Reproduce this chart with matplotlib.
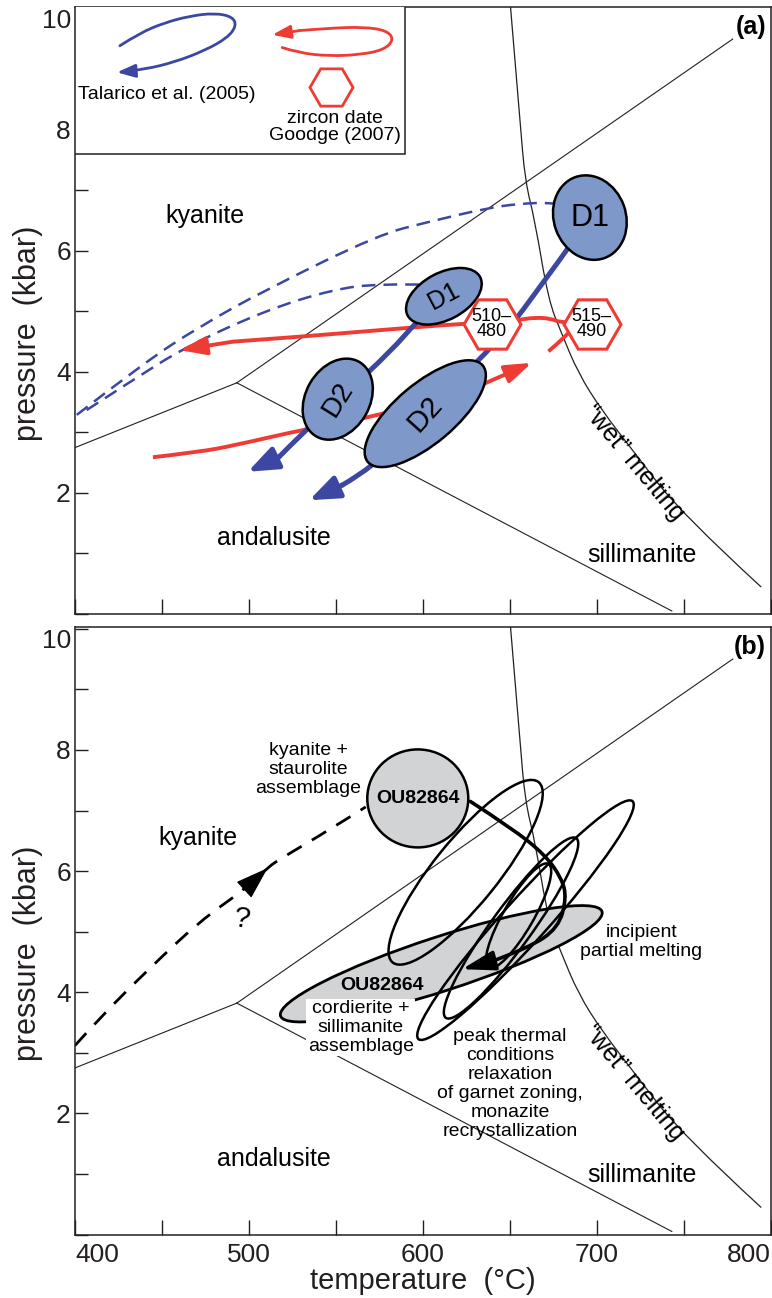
import numpy as np
import matplotlib
matplotlib.use("Agg")
import matplotlib.pyplot as plt
from matplotlib.patches import Ellipse, Rectangle, PathPatch
from matplotlib.path import Path
from matplotlib.transforms import ScaledTranslation

plt.rcParams['font.family'] = ['Liberation Sans', 'DejaVu Sans']

# ---------------- data (temperature °C, pressure kbar) ----------------
# Al2SiO5 phase boundaries
ky_and_T = [400, 493]
ky_and_P = [2.75, 3.82]
ky_sil_T = [493, 778]
ky_sil_P = [3.82, 9.5]
and_sil_T = [493, 743]
and_sil_P = [3.82, 0.05]
wet_T = [650.3, 655.8, 658.7, 664.4, 672.0, 679.6, 689.2, 702.6, 721.7, 748.4, 794.2]
wet_P = [10.03, 8.13, 7.15, 6.49, 5.19, 4.64, 3.98, 3.37, 2.66, 1.66, 0.45]

# panel (a): Talarico et al. (2005) paths
blueA_T = [695.9, 654.9, 637.7, 601.3, 571.8, 553.6, 534.6]
blueA_P = [6.55, 4.89, 4.36, 3.31, 2.43, 2.13, 1.88]
blueB_T = [611.3, 595.7, 582.1, 553.5, 530.8, 517.4, 499.3]
blueB_P = [5.26, 4.81, 4.36, 3.59, 2.99, 2.60, 2.35]
dashU_T = [401, 439.1, 471.6, 509.8, 574.7, 603.3, 635.8, 654.9, 674.0, 690.0]
dashU_P = [3.29, 4.14, 4.75, 5.36, 6.27, 6.48, 6.70, 6.78, 6.80, 6.75]
dashL_T = [406.7, 433.4, 464.0, 509.8, 547.9, 574.7, 605.0]
dashL_P = [3.37, 3.87, 4.42, 5.02, 5.36, 5.46, 5.44]
# panel (a): Goodge (2007) paths
redU_T = [696.7, 679.5, 673.8, 664.2, 655.6, 639.4, 623.4, 574.7, 528.9, 490.7, 460.1]
redU_P = [4.81, 4.81, 4.88, 4.90, 4.86, 4.81, 4.80, 4.69, 4.58, 4.50, 4.36]
redL_T = [444.8, 471.6, 490.7, 534.6, 578.5, 633.9, 662.5]
redL_P = [2.59, 2.68, 2.78, 3.07, 3.29, 3.79, 4.15]
redS_T = [672.1, 677.8, 681.6, 686.5]
redS_P = [4.34, 4.48, 4.59, 4.72]
# deformation ellipses (centre T, P), labels
d_T = [695.9, 612.0, 551.0, 601.3]
d_P = [6.55, 5.25, 3.55, 3.31]
d_lab = ['D1', 'D1', 'D2', 'D2']
# zircon dates
hex_T = [639.6, 696.9]
hex_P = [4.79, 4.79]
hex_lab = ['510–\n480', '515–\n490']
# legend glyphs
legB_T = [425.8, 437.2, 451.5, 465.9, 480.2, 490.5, 492.8, 487.6, 474.5, 457.3, 440.1, 428.6, 424.1]
legB_P = [9.39, 9.60, 9.77, 9.88, 9.93, 9.87, 9.72, 9.52, 9.31, 9.12, 9.00, 8.96, 8.95]
legR_T = [519.1, 528.9, 546.0, 563.2, 577.5, 583.3, 579.3, 566.1, 546.0, 528.9, 513.4]
legR_P = [9.36, 9.27, 9.22, 9.24, 9.32, 9.49, 9.64, 9.70, 9.68, 9.64, 9.57]

# panel (b): sample OU82864
circ_T, circ_P = 597.0, 7.20
gray_T, gray_P = 610.5, 4.47
path_T = [627.2, 651.0, 670.1, 679.7, 682.5, 677.8, 660.6, 639.6, 622.4]
path_P = [7.15, 6.71, 6.27, 5.88, 5.56, 5.06, 4.73, 4.51, 4.38]
prog_T = [400.0, 414.3, 443.0, 471.6, 497.1, 510.7, 515.5, 547.9, 567.1]
prog_P = [3.12, 3.58, 4.40, 5.17, 5.69, 6.05, 6.16, 6.71, 7.06]
ell_T = [624.5, 658.9, 650.6, 654.9]
ell_P = [5.98, 5.19, 5.06, 5.26]

# ---------------- style ----------------
DPI = 100
BLUE = '#3B47A1'
BLUEF = '#7D98C9'
RED = '#EE3B33'
GRAY = '#D1D3D4'
INK = '#231F20'

fig = plt.figure(figsize=(7.72, 12.98), dpi=DPI)
axa = fig.add_axes([75/772, 1-614/1298, 696/772, 607/1298])
axb = fig.add_axes([75/772, 1-1234.5/1298, 696/772, 607.5/1298])


def ell(ax, T, P, w, h, ang, **kw):
    e = Ellipse((0, 0), w/DPI, h/DPI, angle=ang,
                transform=fig.dpi_scale_trans + ScaledTranslation(T, P, ax.transData), **kw)
    ax.add_patch(e)
    return e


def smooth(ax, T, P, color, lw, ls='-', z=2, cap='round'):
    pts = np.column_stack([T, P]).astype(float)
    verts, codes = [pts[0]], [Path.MOVETO]
    n = len(pts)
    if n == 2:
        verts.append(pts[1]); codes.append(Path.LINETO)
    for i in range(1, n - 1):
        end = (pts[i] + pts[i + 1]) / 2 if i < n - 2 else pts[i + 1]
        verts += [pts[i], end]
        codes += [Path.CURVE3, Path.CURVE3]
    p = PathPatch(Path(verts, codes), fill=False, edgecolor=color, lw=lw,
                  linestyle=ls, zorder=z, capstyle=cap, joinstyle='round')
    ax.add_patch(p)


def arrow(ax, T, P, color, lw, hl, hw, z, ms=10):
    ax.annotate('', xy=(T[-1], P[-1]), xytext=(T[-2], P[-2]),
                arrowprops=dict(arrowstyle=f'-|>,head_length={hl},head_width={hw}',
                                color=color, lw=lw, shrinkA=0, shrinkB=0,
                                mutation_scale=ms), zorder=z)


for ax in (axa, axb):
    ax.set_xlim(400, 800)
    ax.set_ylim(0, 10.03)
    ax.set_autoscale_on(False)
    for s in ax.spines.values():
        s.set_color(INK)
        s.set_linewidth(1.1)
    ax.set_yticks(np.arange(0, 11))
    ax.set_yticklabels([str(v) if v in (2, 4, 6, 8, 10) else '' for v in range(11)],
                       fontsize=19, color=INK)
    ax.yaxis.get_major_ticks()[10].label1.set_va('top')
    ax.set_xticks(np.arange(400, 801, 50))
    ax.tick_params(axis='y', direction='in', length=9, width=1, color=INK, pad=3)
    ax.tick_params(axis='x', direction='in', length=11, width=1, color=INK, pad=6)
    ax.text(-0.068, 0.463, 'pressure  (kbar)', rotation=90, fontsize=22, color=INK,
            ha='center', va='center', transform=ax.transAxes)
    # phase diagram
    kw = dict(color=INK, lw=0.8, zorder=1)
    ax.plot(ky_and_T, ky_and_P, **kw)
    ax.plot(ky_sil_T, ky_sil_P, **kw)
    ax.plot(and_sil_T, and_sil_P, **kw)
    smooth(ax, wet_T, wet_P, INK, 0.9, z=1)
    ax.text(721.5, 2.5, '“wet” melting', rotation=-50, fontsize=18,
            ha='center', va='center', rotation_mode='anchor', zorder=7)
    ax.text(514.1, 1.25, 'andalusite', fontsize=18, ha='center', va='center')
    ax.text(726.0, 0.98, 'sillimanite', fontsize=18, ha='center', va='center')

axa.set_xticklabels([''] * 9)
xl = ['400', '', '500', '', '600', '', '700', '', '800']
axb.set_xticklabels(xl, fontsize=19, color=INK)
xt = axb.xaxis.get_major_ticks()
xt[0].label1.set_ha('left')
xt[-1].label1.set_ha('right')
fig.text(0.5 * (75 + 771) / 772, 1 - 1281 / 1298, 'temperature  (°C)', fontsize=21,
         color=INK, ha='center', va='center')

# ---------------- panel (a) ----------------
axa.text(0.993, 0.987, '(a)', transform=axa.transAxes, ha='right', va='top',
         fontsize=18, fontweight='bold')
axa.text(474.6, 6.57, 'kyanite', fontsize=18, ha='center', va='center')

smooth(axa, dashU_T, dashU_P, BLUE, 1.8, ls=(0, (5.5, 3.2)), z=2, cap='butt')
smooth(axa, dashL_T, dashL_P, BLUE, 1.8, ls=(0, (5.5, 3.2)), z=2, cap='butt')

smooth(axa, redU_T[:-1], redU_P[:-1], RED, 2.8, z=3, cap='butt')
arrow(axa, redU_T, redU_P, RED, 2.8, 1.6, 0.55, 3)
smooth(axa, redL_T[:-1], redL_P[:-1], RED, 2.8, z=3, cap='butt')
arrow(axa, redL_T, redL_P, RED, 2.8, 1.6, 0.55, 3)
smooth(axa, redS_T, redS_P, RED, 2.8, z=3, cap='butt')

smooth(axa, blueA_T[:-1], blueA_P[:-1], BLUE, 3.6, z=3)
arrow(axa, blueA_T, blueA_P, BLUE, 3.6, 1.8, 0.7, 3)
smooth(axa, blueB_T[:-1], blueB_P[:-1], BLUE, 3.6, z=3)
arrow(axa, blueB_T, blueB_P, BLUE, 3.6, 1.8, 0.7, 3)

d_shape = [(86, 72, 110), (82, 47, 28), (86, 64, 60), (150, 60, 40)]
d_rot = [0, 28, 58, 48]
d_fs = [22, 18, 20, 21]
for T, P, lab, (w, h, a), r, fs in zip(d_T, d_P, d_lab, d_shape, d_rot, d_fs):
    ell(axa, T, P, w, h, a, facecolor=BLUEF, edgecolor='black', lw=1.8, zorder=4)
    axa.text(T, P, lab, rotation=r, fontsize=fs, ha='center', va='center',
             rotation_mode='anchor', zorder=6)

axa.plot(hex_T, hex_P, linestyle='none', marker='H', ms=41, mfc='white', mec=RED,
         mew=2.2, zorder=5)
for T, P, lab in zip(hex_T, hex_P, hex_lab):
    axa.text(T, P, lab, fontsize=13, ha='center', va='center', linespacing=0.85, zorder=6)

# legend box
axa.add_patch(Rectangle((400, 7.6), 189.6, 2.6, facecolor='white', edgecolor=INK,
                        lw=1.1, zorder=5))
smooth(axa, legB_T[:-1], legB_P[:-1], BLUE, 2.0, z=6)
arrow(axa, legB_T, legB_P, BLUE, 2.0, 1.1, 0.4, 6)
smooth(axa, legR_T[:-1], legR_P[:-1], RED, 2.0, z=6)
arrow(axa, legR_T, legR_P, RED, 2.0, 1.1, 0.4, 6)
axa.plot([547.0], [8.71], linestyle='none', marker='H', ms=31, mfc='white', mec=RED,
         mew=2.0, zorder=6)
axa.text(452.7, 8.58, 'Talarico et al. (2005)', fontsize=14, ha='center', va='center', zorder=7)
axa.text(549.4, 8.05, 'zircon date\nGoodge (2007)', fontsize=14, ha='center', va='center',
         linespacing=1.05, zorder=7)

# ---------------- panel (b) ----------------
axb.text(0.993, 0.987, '(b)', transform=axb.transAxes, ha='right', va='top',
         fontsize=18, fontweight='bold')
axb.text(470.8, 6.54, 'kyanite', fontsize=18, ha='center', va='center')

smooth(axb, prog_T, prog_P, 'black', 2.0, ls=(0, (6, 4.3)), z=2, cap='butt')
axb.annotate('', xy=(prog_T[5], prog_P[5]), xytext=(prog_T[4], prog_P[4]),
             arrowprops=dict(arrowstyle='-|>,head_length=2.1,head_width=0.7',
                             color='black', lw=1.0, shrinkA=0, shrinkB=0,
                             mutation_scale=10), zorder=3)
axb.text(496.0, 5.2, '?', fontsize=21, rotation=-8, ha='center', va='center')

ell(axb, gray_T, gray_P, 338, 54, 18, facecolor=GRAY, edgecolor='black', lw=2.0, zorder=3)
ell_shape = [(232, 64, 51), (320, 44, 48), (222, 40, 54), (120, 30, 60)]
for T, P, (w, h, a) in zip(ell_T, ell_P, ell_shape):
    ell(axb, T, P, w, h, a, facecolor='none', edgecolor='black', lw=1.8, zorder=4)

smooth(axb, path_T[:-1], path_P[:-1], 'black', 2.6, z=5)
arrow(axb, path_T, path_P, 'black', 2.6, 2.0, 0.6, 5)

ell(axb, circ_T, circ_P, 101, 98, 0, facecolor=GRAY, edgecolor='black', lw=1.8, zorder=6)
axb.text(circ_T, circ_P, 'OU82864', fontsize=14, fontweight='bold', ha='center',
         va='center', zorder=7)
axb.text(576.6, 4.11, 'OU82864', fontsize=14, fontweight='bold', ha='center',
         va='center', zorder=7)
axb.text(564.2, 3.42, 'cordierite +\nsillimanite\nassemblage', fontsize=14, ha='center',
         va='center', linespacing=1.15, zorder=7,
         bbox=dict(facecolor='white', edgecolor='none', pad=1))
axb.text(534.0, 7.67, 'kyanite +\nstaurolite\nassemblage', fontsize=14, ha='center',
         va='center', linespacing=1.15, zorder=7)
axb.text(725.5, 4.83, 'incipient\npartial melting', fontsize=14, ha='center',
         va='center', linespacing=1.15, zorder=7)
axb.text(650.1, 2.49, 'peak thermal\nconditions\nrelaxation\nof garnet zoning,\nmonazite\n'
         'recrystallization', fontsize=14, ha='center', va='center', linespacing=1.15,
         zorder=7)

fig.savefig('out.png', dpi=DPI)
